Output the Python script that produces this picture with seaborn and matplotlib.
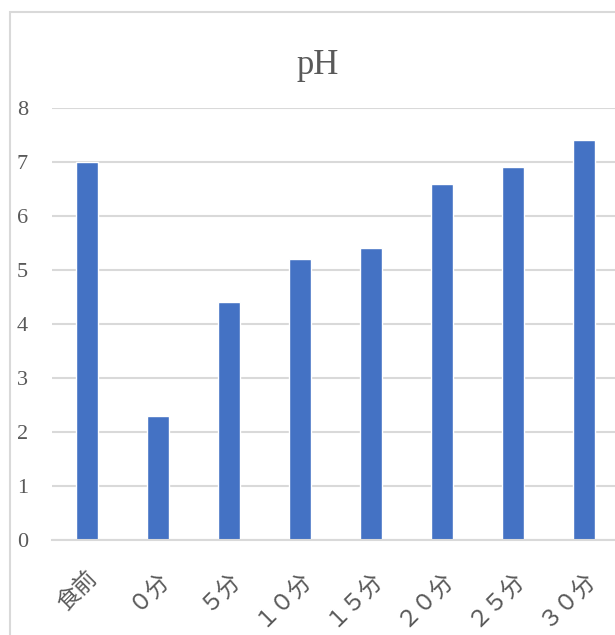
import seaborn as sns
import pandas as pd
import matplotlib.pyplot as plt
from matplotlib.patches import Rectangle

# データ
labels = ['食前', '０分', '５分', '１０分', '１５分', '２０分', '２５分', '３０分']
ph = [7.0, 2.3, 4.4, 5.2, 5.4, 6.6, 6.9, 7.4]

df = pd.DataFrame({'time': labels, 'pH': ph})

sns.set_style('white')
plt.rcParams['font.family'] = ['Liberation Serif', 'Noto Sans CJK JP', 'DejaVu Sans']

fig = plt.figure(figsize=(6.15, 6.35), dpi=100)
# チャートエリアの枠
fig.patches.append(Rectangle((10 / 615, -0.1), 1.2, (635 - 12) / 635 + 0.1,
                             transform=fig.transFigure, fill=False,
                             edgecolor='#d9d9d9', lw=1.5))

ax = fig.add_axes([51.5 / 615, 95 / 635, 568 / 615, 432 / 635])
sns.barplot(data=df, x='time', y='pH', color='#4472C4', saturation=1,
            width=0.31, ax=ax)

ax.set_ylim(0, 8)
ax.set_yticks(range(0, 9))
ax.grid(axis='y', color='#d9d9d9', lw=1.5)
ax.set_axisbelow(True)
for s in ['left', 'right', 'top']:
    ax.spines[s].set_visible(False)
ax.spines['bottom'].set_color('#d9d9d9')
ax.spines['bottom'].set_linewidth(1.5)
ax.tick_params(axis='both', length=0, labelsize=16, labelcolor='#595959')
ax.tick_params(axis='y', pad=17)
ax.tick_params(axis='x', labelsize=16.5, pad=20)
plt.setp(ax.get_xticklabels(), rotation=45, ha='right', va='top',
         rotation_mode='anchor')
ax.set_xlabel('')
ax.set_ylabel('')
fig.text(318 / 615, 1 - 65 / 635, 'pH', ha='center', va='center',
         fontsize=25, color='#595959')

plt.savefig('out.png', dpi=100)
